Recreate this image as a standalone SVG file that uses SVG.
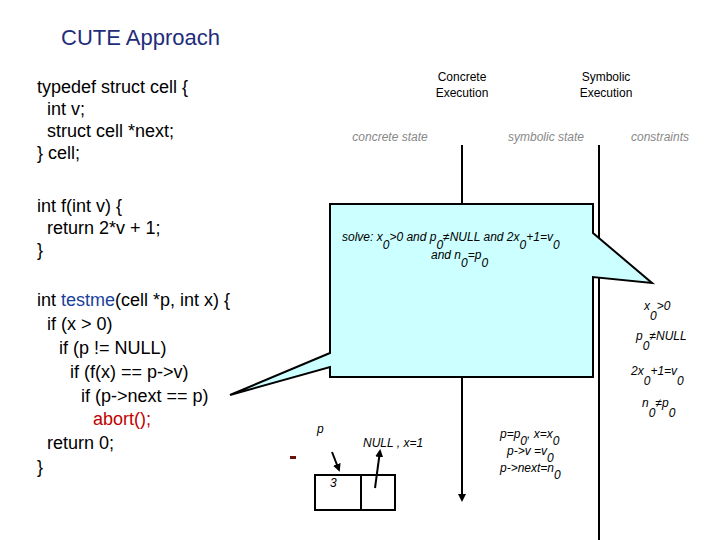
<svg xmlns="http://www.w3.org/2000/svg" width="720" height="540" viewBox="0 0 720 540">
<style>
.code{font-family:"Liberation Sans",Arial,sans-serif;font-size:18px;fill:#000}
.red{fill:#c00000}
.it{font-family:"Liberation Sans",Arial,sans-serif;font-size:12px;font-style:italic;fill:#000}
.hd{font-family:"Liberation Sans",Arial,sans-serif;font-size:12px;fill:#000;text-anchor:middle}
.gr{font-family:"Liberation Sans",Arial,sans-serif;font-size:12px;font-style:italic;fill:#888;text-anchor:middle}
.ln{stroke:#000;stroke-width:2;fill:none}
</style>
<defs>
<marker id="ah" markerWidth="8" markerHeight="8" refX="6" refY="4" orient="auto" markerUnits="userSpaceOnUse"><path d="M0,0 L8,4 L0,8 z" fill="#000"/></marker>
</defs>
<rect width="720" height="540" fill="#fff"/>
<text x="61" y="45" font-family="Liberation Sans,Arial,sans-serif" font-size="22" fill="#1f2d7a">CUTE Approach</text>
<g id="code">
<text class="code" x="37" y="93">typedef struct cell {</text>
<text class="code" x="47" y="115">int v;</text>
<text class="code" x="47" y="137">struct cell *next;</text>
<text class="code" x="37" y="159">} cell;</text>
<text class="code" x="37" y="212">int f(int v) {</text>
<text class="code" x="47" y="234">return 2*v + 1;</text>
<text class="code" x="37" y="256">}</text>
<text class="code" x="37" y="306">int <tspan style="fill:#1a3f9a">testme</tspan>(cell *p, int x) {</text>
<text class="code" x="47" y="330">if (x &gt; 0)</text>
<text class="code" x="59" y="354">if (p != NULL)</text>
<text class="code" x="70" y="378">if (f(x) == p-&gt;v)</text>
<text class="code" x="81" y="402">if (p-&gt;next == p)</text>
<text class="code red" x="93" y="425">abort();</text>
<text class="code" x="47" y="449">return 0;</text>
<text class="code" x="37" y="473">}</text>
</g>
<g id="headers">
<text class="hd" x="462" y="81">Concrete</text>
<text class="hd" x="462" y="97">Execution</text>
<text class="hd" x="606" y="81">Symbolic</text>
<text class="hd" x="606" y="97">Execution</text>
<text class="gr" x="390" y="141">concrete state</text>
<text class="gr" x="546" y="141">symbolic state</text>
<text class="gr" x="660" y="141">constraints</text>
</g>
<g id="connectors">
<line class="ln" x1="462" y1="145" x2="462" y2="500" marker-end="url(#ah)"/>
<line class="ln" x1="599" y1="145" x2="599" y2="540"/>
<line class="ln" x1="332" y1="452" x2="339" y2="470" marker-end="url(#ah)"/>
<line class="ln" x1="375" y1="488" x2="380" y2="451" marker-end="url(#ah)"/>
<rect x="290" y="456" width="6" height="3" fill="#6b0f0f"/>
</g>
<g id="callout">
<path d="M330,204 L593,204 L593,233 L652,283 L593,277 L593,377 L330,377 L330,367 L230,395 L330,353 Z" fill="#ccffff" stroke="#000" stroke-width="2"/>
<text class="it" x="342" y="241" font-size="12.5">solve: x<tspan dy="8">0</tspan><tspan dy="-8">&gt;0 and p</tspan><tspan dy="8">0</tspan><tspan dy="-8">≠NULL and 2x</tspan><tspan dy="8">0</tspan><tspan dy="-8">+1=v</tspan><tspan dy="8">0</tspan></text>
<text class="it" x="431" y="259">and n<tspan dy="8">0</tspan><tspan dy="-8">=p</tspan><tspan dy="8">0</tspan></text>
</g>
<g id="constraints">
<text class="it" x="644" y="310">x<tspan dy="10">0</tspan><tspan dy="-10">&gt;0</tspan></text>
<text class="it" x="636" y="340">p<tspan dy="10">0</tspan><tspan dy="-10">≠NULL</tspan></text>
<text class="it" x="631" y="375">2x<tspan dy="10">0</tspan><tspan dy="-10">+1=v</tspan><tspan dy="10">0</tspan></text>
<text class="it" x="642" y="407">n<tspan dy="10">0</tspan><tspan dy="-10">≠p</tspan><tspan dy="10">0</tspan></text>
</g>
<g id="symstate">
<text class="it" x="500" y="438">p=p<tspan dy="7">0</tspan><tspan dy="-7">, x=x</tspan><tspan dy="7">0</tspan></text>
<text class="it" x="507" y="455">p-&gt;v =v<tspan dy="7">0</tspan></text>
<text class="it" x="500" y="472">p-&gt;next=n<tspan dy="7">0</tspan></text>
</g>
<g id="cell">
<text class="it" x="317" y="433">p</text>
<text class="it" x="363" y="447">NULL , x=1</text>
<rect x="315" y="475" width="80" height="35" fill="none" stroke="#000" stroke-width="2"/>
<line x1="361" y1="475" x2="361" y2="510" stroke="#000" stroke-width="2"/>
<text class="it" x="330" y="487">3</text>
</g>
</svg>
